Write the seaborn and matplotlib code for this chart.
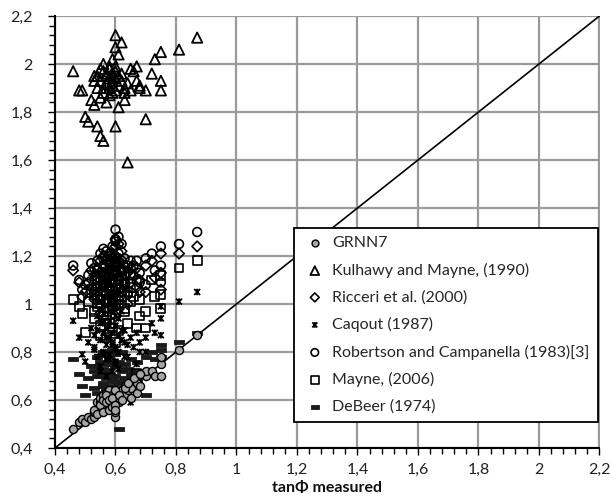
import numpy as np
import pandas as pd
import matplotlib
matplotlib.use("Agg")
import matplotlib.pyplot as plt
from matplotlib.path import Path
from matplotlib.ticker import MultipleLocator, FuncFormatter
import seaborn as sns

# ---- data ----
measured = [
    0.46, 0.48, 0.49, 0.50, 0.51, 0.52, 0.53, 0.53, 0.54, 0.54,
    0.55, 0.55, 0.55, 0.56, 0.56, 0.56, 0.57, 0.57, 0.57, 0.58,
    0.58, 0.58, 0.59, 0.59, 0.59, 0.60, 0.60, 0.60, 0.60, 0.61,
    0.61, 0.61, 0.62, 0.62, 0.63, 0.63, 0.64, 0.65, 0.65, 0.67,
    0.67, 0.68, 0.70, 0.70, 0.72, 0.73, 0.75, 0.75, 0.75, 0.81, 0.87,
    0.53, 0.54, 0.55, 0.56, 0.56, 0.57, 0.57, 0.58, 0.58, 0.59,
    0.59, 0.60, 0.60, 0.60, 0.61, 0.62, 0.63, 0.64, 0.66, 0.68]

grnn7 = [
    0.48, 0.51, 0.52, 0.51, 0.53, 0.52, 0.53, 0.55, 0.59, 0.56,
    0.57, 0.59, 0.61, 0.57, 0.60, 0.62, 0.57, 0.60, 0.63, 0.58,
    0.61, 0.64, 0.60, 0.62, 0.58, 0.53, 0.55, 0.60, 0.62, 0.59,
    0.61, 0.63, 0.62, 0.64, 0.62, 0.66, 0.64, 0.61, 0.65, 0.67,
    0.63, 0.66, 0.70, 0.72, 0.72, 0.70, 0.70, 0.75, 0.78, 0.81, 0.87,
    0.56, 0.54, 0.58, 0.55, 0.60, 0.59, 0.62, 0.60, 0.56, 0.61,
    0.57, 0.58, 0.64, 0.56, 0.62, 0.60, 0.65, 0.67, 0.69, 0.71]

kulhawy = [
    1.97, 1.89, 1.89, 1.78, 1.76, 1.85, 1.83, 1.93, 1.95, 1.74,
    1.86, 1.98, 1.70, 1.68, 1.90, 2.00, 1.84, 1.96, 1.92, 1.87,
    1.99, 1.94, 1.91, 2.02, 1.88, 2.12, 2.07, 1.74, 1.97, 1.82,
    1.95, 2.04, 2.09, 1.93, 1.85, 1.90, 1.59, 1.98, 1.89, 1.93,
    1.99, 1.91, 1.77, 1.89, 1.96, 2.02, 2.05, 1.93, 1.89, 2.06, 2.11,
    1.95, 1.90, 1.93, 1.97, 1.88, 1.95, 1.92, 1.98, 1.90, 1.96,
    1.93, 1.89, 1.99, 1.94, 1.91, 1.96, 1.88, 1.92, 1.97, 1.90]

ricceri = [
    1.14, 1.09, 1.03, 1.05, 1.09, 1.14, 1.12, 1.02, 1.15, 1.07,
    1.18, 1.10, 0.99, 1.13, 1.05, 1.16, 1.09, 1.19, 1.01, 1.12,
    1.17, 1.06, 1.21, 1.10, 0.98, 1.27, 1.24, 1.14, 1.04, 1.25,
    1.18, 1.08, 1.22, 1.11, 1.16, 1.06, 1.13, 1.09, 1.15, 1.15,
    1.07, 1.10, 1.16, 1.05, 1.18, 1.11, 1.21, 1.13, 1.06, 1.21, 1.24,
    1.06, 1.11, 0.96, 1.20, 1.08, 1.13, 0.97, 1.17, 1.03, 1.10,
    1.15, 0.95, 1.20, 1.12, 1.02, 1.14, 1.08, 1.00, 1.12, 1.05]

caqout = [
    0.93, 0.86, 0.79, 0.76, 0.84, 0.90, 0.81, 0.87, 0.95, 0.78,
    0.85, 0.92, 0.74, 0.88, 0.80, 0.96, 0.83, 0.90, 0.77, 0.86,
    0.93, 0.79, 0.98, 0.84, 0.72, 0.91, 1.00, 0.82, 0.76, 0.94,
    0.87, 0.80, 0.97, 0.85, 0.89, 0.78, 0.83, 0.59, 0.86, 0.75,
    0.88, 0.84, 0.86, 0.80, 0.92, 0.88, 0.99, 0.94, 0.87, 1.01, 1.05,
    0.82, 0.89, 0.72, 0.93, 0.79, 0.86, 0.70, 0.91, 0.77, 0.83,
    0.88, 0.75, 0.95, 0.81, 0.73, 0.89, 0.84, 0.78, 0.82, 0.80]

robertson = [
    1.16, 1.10, 1.06, 1.08, 1.12, 1.17, 1.15, 1.05, 1.18, 1.10,
    1.21, 1.13, 1.02, 1.16, 1.08, 1.19, 1.12, 1.22, 1.04, 1.15,
    1.20, 1.09, 1.24, 1.13, 1.01, 1.31, 1.27, 1.17, 1.07, 1.28,
    1.21, 1.11, 1.25, 1.14, 1.19, 1.09, 1.16, 1.12, 1.18, 1.18,
    1.10, 1.13, 1.19, 1.08, 1.21, 1.14, 1.24, 1.16, 1.09, 1.25, 1.30,
    1.10, 1.14, 1.00, 1.23, 1.12, 1.18, 1.02, 1.21, 1.07, 1.14,
    1.19, 0.99, 1.26, 1.16, 1.06, 1.18, 1.12, 1.04, 1.16, 1.09]

mayne = [
    1.02, 0.99, 0.96, 0.88, 1.01, 1.06, 1.04, 0.94, 1.07, 0.99,
    1.10, 1.02, 0.91, 1.05, 0.97, 1.08, 1.01, 1.11, 0.93, 1.04,
    1.09, 0.98, 1.13, 1.02, 0.90, 1.19, 1.16, 1.06, 0.96, 1.17,
    1.10, 1.00, 1.14, 1.03, 1.08, 0.98, 1.05, 1.01, 1.07, 0.90,
    0.71, 1.02, 0.90, 0.97, 1.10, 1.03, 1.12, 1.04, 0.98, 1.15, 1.18,
    0.97, 1.00, 0.87, 1.12, 0.95, 1.04, 0.86, 1.09, 0.92, 1.01,
    1.06, 0.84, 1.12, 1.03, 0.89, 1.05, 0.97, 0.92, 1.03, 0.95]

debeer = [
    0.77, 0.71, 0.66, 0.62, 0.69, 0.74, 0.65, 0.72, 0.78, 0.63,
    0.70, 0.76, 0.56, 0.73, 0.67, 0.80, 0.64, 0.75, 0.69, 0.71,
    0.78, 0.62, 0.81, 0.68, 0.66, 0.74, 0.79, 0.70, 0.63, 0.48,
    0.76, 0.67, 0.80, 0.72, 0.75, 0.69, 0.73, 0.71, 0.77, 0.68,
    0.76, 0.72, 0.62, 0.78, 0.80, 0.77, 0.83, 0.81, 0.78, 0.84, 0.88,
    0.74, 0.70, 0.60, 0.79, 0.66, 0.72, 0.61, 0.76, 0.64, 0.70,
    0.75, 0.59, 0.79, 0.68, 0.65, 0.73, 0.68, 0.64, 0.72, 0.70]

labels = ["GRNN7", "Kulhawy and Mayne, (1990)", "Ricceri et al. (2000)",
          "Caqout (1987)", "Robertson and Campanella (1983)[3]",
          "Mayne, (2006)", "DeBeer (1974)"]
tick_values = [0.4, 0.6, 0.8, 1.0, 1.2, 1.4, 1.6, 1.8, 2.0, 2.2]

# ---- styling ----
sns.set_theme(style="white")
plt.rcParams['font.family'] = ['Lato', 'DejaVu Sans']

star = Path([(-1, -1), (1, 1), (-1, 1), (1, -1), (0, -1.1), (0, 1.1)],
            [Path.MOVETO, Path.LINETO, Path.MOVETO, Path.LINETO, Path.MOVETO, Path.LINETO])
dash = Path([(-1, -0.4), (1, -0.4), (1, 0.4), (-1, 0.4), (-1, -0.4)],
            [Path.MOVETO, Path.LINETO, Path.LINETO, Path.LINETO, Path.CLOSEPOLY])

series = [grnn7, kulhawy, ricceri, caqout, robertson, mayne, debeer]
styles = [
    dict(marker="o", s=34, facecolor="#A6A6A6", edgecolor="black", linewidth=1.0),
    dict(marker="^", s=55, facecolor="none", edgecolor="black", linewidth=1.3),
    dict(marker="D", s=28, facecolor="none", edgecolor="black", linewidth=1.2),
    dict(marker=star, s=22, facecolor="none", edgecolor="black", linewidth=1.3),
    dict(marker="o", s=40, facecolor="none", edgecolor="black", linewidth=1.2),
    dict(marker="s", s=40, facecolor="none", edgecolor="black", linewidth=1.2),
    dict(marker=dash, s=42, facecolor="#1a1a1a", edgecolor="#1a1a1a", linewidth=0.6),
]

fig = plt.figure(figsize=(6.10, 5.03), dpi=100)
ax = fig.add_axes([55 / 610, 55 / 503, 544.5 / 610, 432 / 503])
ax.set_facecolor("none")

# diagonal 1:1 line
ax.plot([0.4, 2.2], [0.4, 2.2], color="black", lw=1.2, zorder=2)

order = [6, 5, 4, 3, 2, 1, 0]
for i in order:
    df = pd.DataFrame({"measured": measured, "predicted": series[i]})
    sns.scatterplot(data=df, x="measured", y="predicted", ax=ax, color="black",
                    label=labels[i], zorder=3 + (i == 0), **styles[i])

ax.set_xlim(0.4, 2.2)
ax.set_ylim(0.4, 2.2)
fmt = FuncFormatter(lambda v, p: f"{v:.1f}".rstrip("0").rstrip(".").replace(".", ","))
ax.set_xticks(tick_values)
ax.set_yticks(tick_values)
ax.xaxis.set_major_formatter(fmt)
ax.yaxis.set_major_formatter(fmt)
ax.xaxis.set_minor_locator(MultipleLocator(0.04))
ax.yaxis.set_minor_locator(MultipleLocator(0.04))
ax.tick_params(which="both", direction="out", color="black", width=1.0,
               labelsize=11.5, labelcolor="#222222", bottom=True, left=True)
ax.tick_params(which="major", length=5)
ax.tick_params(which="minor", length=4)
ax.tick_params(axis="x", which="major", pad=6)
ax.tick_params(axis="y", which="major", pad=11)
for s in ["top", "right"]:
    ax.spines[s].set_visible(False)
for s in ["left", "bottom"]:
    ax.spines[s].set_color("black")
    ax.spines[s].set_linewidth(1.5)
    ax.spines[s].set_zorder(5)

# gray major grid lines
for t in tick_values:
    ax.axvline(t, color="#9A9A9A", linewidth=1.6, zorder=1)
    ax.axhline(t, color="#9A9A9A", linewidth=1.6, zorder=1)

ax.set_xlabel("tanΦ measured", fontsize=11.5, fontweight="bold", labelpad=3, color="#111111")
ax.set_ylabel("")

h, l = ax.get_legend_handles_labels()
hmap = dict(zip(l, h))
leg = ax.legend([hmap[k] for k in labels], labels, loc="upper left",
                bbox_to_anchor=(0.439, 0.509), frameon=True, fancybox=False,
                edgecolor="black", framealpha=1, fontsize=11.5, labelspacing=0.78,
                handlelength=1.6, handletextpad=0.3, borderpad=0.5,
                borderaxespad=0, markerscale=0.85)
leg.get_frame().set_linewidth(1.3)
leg.set_zorder(10)

fig.savefig("out.png", dpi=100, facecolor="white")
